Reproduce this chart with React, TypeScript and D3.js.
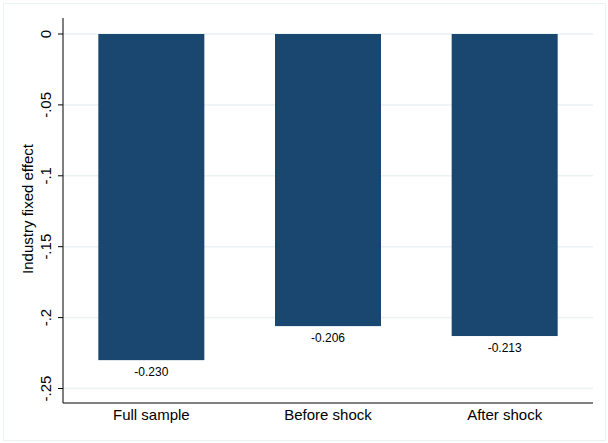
import React, { useEffect, useRef } from "react";
import * as d3 from "d3";

// Chart data
const categories = ["Full sample", "Before shock", "After shock"];
const values = [-0.23, -0.206, -0.213];
const yTicks = [0, -0.05, -0.1, -0.15, -0.2, -0.25];
const yTickLabels = ["0", "-.05", "-.1", "-.15", "-.2", "-.25"];

const App: React.FC = () => {
  const svgRef = useRef<SVGSVGElement | null>(null);

  useEffect(() => {
    if (!svgRef.current) return;
    const svg = d3.select(svgRef.current);
    svg.selectAll("*").remove();

    const width = 608;
    const height = 443;
    const left = 63;
    const right = 593;
    const top = 18;
    const bottom = 403;
    const font = "Liberation Sans, Arial, sans-serif";

    // outer frame
    svg
      .append("rect")
      .attr("x", 3.5)
      .attr("y", 3.5)
      .attr("width", width - 6)
      .attr("height", height - 6)
      .attr("fill", "#ffffff")
      .attr("stroke", "#eaf2f3")
      .attr("stroke-width", 1);

    const y = d3.scaleLinear().domain([0, -0.25]).range([34, 388.5]);
    const x = d3
      .scaleBand<string>()
      .domain(categories)
      .range([left, right])
      .paddingInner(0.4)
      .paddingOuter(0.2);

    // gridlines
    svg
      .append("g")
      .selectAll("line")
      .data(yTicks)
      .enter()
      .append("line")
      .attr("x1", left)
      .attr("x2", right)
      .attr("y1", (d) => y(d))
      .attr("y2", (d) => y(d))
      .attr("stroke", "#eaf2f3")
      .attr("stroke-width", 1.5);

    // bars
    svg
      .append("g")
      .selectAll("rect")
      .data(values)
      .enter()
      .append("rect")
      .attr("x", (_, i) => x(categories[i]) as number)
      .attr("width", x.bandwidth())
      .attr("y", y(0))
      .attr("height", (d) => y(d) - y(0))
      .attr("fill", "#1a476f");

    // value labels
    svg
      .append("g")
      .selectAll("text")
      .data(values)
      .enter()
      .append("text")
      .attr("x", (_, i) => (x(categories[i]) as number) + x.bandwidth() / 2)
      .attr("y", (d) => y(d) + 16)
      .attr("text-anchor", "middle")
      .attr("font-family", font)
      .attr("font-size", "12px")
      .attr("fill", "#000")
      .text((d) => d.toFixed(3));

    // axes lines
    svg
      .append("line")
      .attr("x1", left)
      .attr("x2", left)
      .attr("y1", top)
      .attr("y2", bottom)
      .attr("stroke", "#000")
      .attr("stroke-width", 1);
    svg
      .append("line")
      .attr("x1", left)
      .attr("x2", right)
      .attr("y1", bottom)
      .attr("y2", bottom)
      .attr("stroke", "#000")
      .attr("stroke-width", 1);

    // y ticks + labels
    const yAxis = svg.append("g");
    yAxis
      .selectAll("line")
      .data(yTicks)
      .enter()
      .append("line")
      .attr("x1", left - 5)
      .attr("x2", left)
      .attr("y1", (d) => y(d))
      .attr("y2", (d) => y(d))
      .attr("stroke", "#000");
    yAxis
      .selectAll("text")
      .data(yTicks)
      .enter()
      .append("text")
      .attr("transform", (d) => `translate(51, ${y(d)}) rotate(-90)`)
      .attr("text-anchor", "middle")
      .attr("font-family", font)
      .attr("font-size", "15px")
      .text((_, i) => yTickLabels[i]);

    // x labels
    svg
      .append("g")
      .selectAll("text")
      .data(categories)
      .enter()
      .append("text")
      .attr("x", (d) => (x(d) as number) + x.bandwidth() / 2)
      .attr("y", 420)
      .attr("text-anchor", "middle")
      .attr("font-family", font)
      .attr("font-size", "15px")
      .text((d) => d);

    // y axis title
    svg
      .append("text")
      .attr("transform", `translate(33, 209) rotate(-90)`)
      .attr("text-anchor", "middle")
      .attr("font-family", font)
      .attr("font-size", "15px")
      .text("Industry fixed effect");
  }, []);

  return (
    <div style={{ position: "fixed", top: 0, left: 0, background: "#fff" }}>
      <svg ref={svgRef} width={608} height={443} style={{ display: "block" }} />
    </div>
  );
};

export default App;
